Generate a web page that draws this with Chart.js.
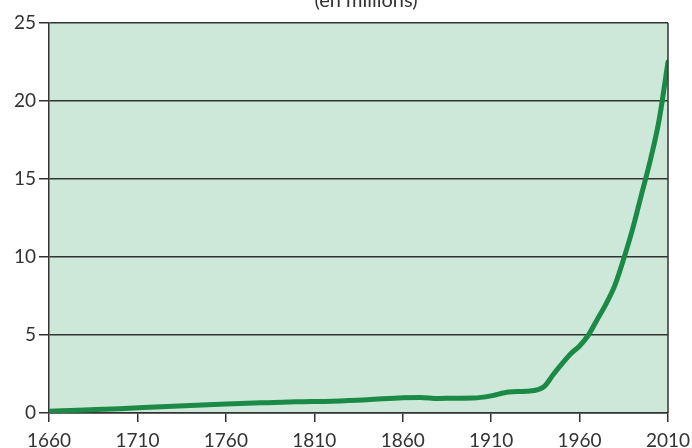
<!DOCTYPE html>
<html>
<head>
<meta charset="utf-8">
<script src="https://cdn.jsdelivr.net/npm/chart.js@4"></script>
<style>
  html, body { margin: 0; padding: 0; background: #ffffff; }
  #wrap { position: relative; width: 692px; height: 448px; }
</style>
</head>
<body>
<div id="wrap"><canvas id="c" width="692" height="448"></canvas></div>
<script>
// Data (population, in millions)
const years = [1660,1680,1700,1720,1740,1760,1780,1800,1820,1840,1860,1870,1880,1890,1900,1910,1920,1930,1940,1945,1950,1955,1960,1965,1970,1975,1980,1985,1990,1995,2000,2005,2010];
const population = [0.12,0.2,0.28,0.38,0.48,0.57,0.65,0.72,0.76,0.85,0.98,1.0,0.93,0.95,0.96,1.1,1.35,1.4,1.7,2.45,3.15,3.8,4.3,5.0,6.0,7.0,8.2,9.9,11.8,14.0,16.2,18.8,22.5];
const xTicks = [1660,1710,1760,1810,1860,1910,1960,2010];
const yTicks = [0,5,10,15,20,25];
const subtitle = "(en millions)";

const FONT = "Lato";
const INK = "#333333";

const framePlugin = {
  id: "frame",
  beforeDraw(chart) {
    const { ctx, chartArea: a } = chart;
    ctx.save();
    ctx.fillStyle = "#cde8d9";
    ctx.fillRect(a.left, a.top, a.right - a.left, a.bottom - a.top);
    ctx.restore();
  },
  afterDraw(chart) {
    const { ctx, chartArea: a } = chart;
    ctx.save();
    ctx.strokeStyle = INK;
    ctx.lineWidth = 1.5;
    ctx.beginPath();
    ctx.moveTo(a.right, a.top);
    ctx.lineTo(a.right, a.bottom);
    ctx.stroke();
    ctx.fillStyle = INK;
    ctx.font = "20px " + FONT;
    ctx.textAlign = "center";
    ctx.textBaseline = "alphabetic";
    ctx.fillText(subtitle, 366, 7);
    ctx.restore();
  }
};

new Chart(document.getElementById("c"), {
  type: "line",
  data: {
    datasets: [{
      data: years.map((y, i) => ({ x: y, y: population[i] })),
      borderColor: "#1b8a46",
      borderWidth: 5,
      pointRadius: 0,
      fill: false,
      cubicInterpolationMode: "monotone",
      borderCapStyle: "round",
      borderJoinStyle: "round"
    }]
  },
  options: {
    responsive: false,
    animation: false,
    devicePixelRatio: 1,
    layout: { padding: { left: 0, right: 24, top: 23, bottom: 0 } },
    plugins: { legend: { display: false }, tooltip: { enabled: false }, title: { display: false } },
    scales: {
      x: {
        type: "linear",
        min: 1660, max: 2010,
        afterBuildTicks: (s) => { s.ticks = xTicks.map(v => ({ value: v })); },
        afterFit: (s) => { s.height = 35; s.paddingLeft = 0; s.paddingRight = 0; },
        ticks: { color: INK, font: { family: FONT, size: 19 }, padding: 7, maxRotation: 0, autoSkip: false, callback: (v) => String(v) },
        grid: { drawOnChartArea: false, drawTicks: true, tickLength: 9, color: INK, lineWidth: 1.5 },
        border: { display: true, color: INK, width: 1.5 }
      },
      y: {
        min: 0, max: 25,
        afterBuildTicks: (s) => { s.ticks = yTicks.map(v => ({ value: v })); },
        afterFit: (s) => { s.width = 49; s.paddingTop = 0; s.paddingBottom = 0; },
        ticks: { color: INK, font: { family: FONT, size: 19 }, padding: 3, callback: (v) => String(v) },
        grid: { drawOnChartArea: true, drawTicks: true, tickLength: 10, color: INK, lineWidth: 1.5 },
        border: { display: true, color: INK, width: 1.5 }
      }
    }
  },
  plugins: [framePlugin]
});
</script>
</body>
</html>
